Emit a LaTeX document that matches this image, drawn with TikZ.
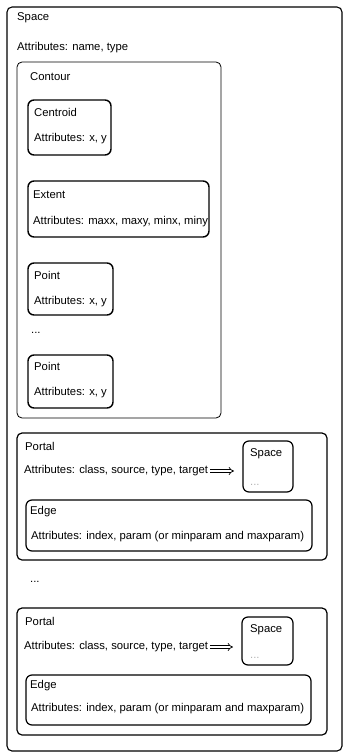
\documentclass[tikz,border=0pt]{standalone}
\usepackage{fontspec}
\setmainfont{Liberation Sans}
\usetikzlibrary{arrows.meta}

\begin{document}
\begin{tikzpicture}[x=1pt,y=-1pt,
  lbl/.style={anchor=west,inner sep=0pt,font=\fontsize{11.3}{13}\selectfont},
  frame/.style={draw,rounded corners=5pt,anchor=north west,inner sep=0pt,outer sep=0pt,line width=1pt},
  inbox/.style={frame,rounded corners=6pt,line width=1.4pt},
  implies/.style={double,line width=0.7pt,double distance=2pt,-{Implies},shorten <=2pt,shorten >=9pt}]

\useasboundingbox (0,0) rectangle (343,754);


\node [frame,line width=1.1pt,minimum width=335pt,minimum height=744pt] (sp-box) at (7,7){};
\node [lbl] (sp-title) at (17,18){Space};
\node [lbl] (sp-attr) at (17,48){Attributes: name, type};



\node [frame,line width=0.8pt,minimum width=204pt,minimum height=356pt] (ctr-box) at (17,62){};
\node [lbl] (ctr-title) at (30,77){Contour};

\node [inbox,minimum width=83pt,minimum height=55pt] (cen-box) at (28,100){};
\node [lbl] (cen-title) at (34,112){Centroid};
\node [lbl] (cen-attr) at (34,139){Attributes: x, y};

\node [inbox,minimum width=181pt,minimum height=56pt] (ext-box) at (28,181){};
\node [lbl] (ext-title) at (33,195){Extent};
\node [lbl] (ext-attr) at (33,222){Attributes: maxx, maxy, minx, miny};

\node [inbox,minimum width=85pt,minimum height=52pt] (pt1-box) at (28,263){};
\node [lbl] (pt1-title) at (34,275){Point};
\node [lbl] (pt1-attr) at (34,302){Attributes: x, y};

\node [lbl] (pt-dots) at (31,333){...};

\node [inbox,minimum width=85pt,minimum height=53pt] (pt2-box) at (28,355){};
\node [lbl] (pt2-title) at (34,366){Point};
\node [lbl] (pt2-attr) at (34,393){Attributes: x, y};



\node [frame,line width=1.2pt,minimum width=310pt,minimum height=127pt] (pr1-box) at (17,433){};
\node [lbl] (pr1-title) at (25,446){Portal};
\node [lbl] (pr1-attr) at (24,471){Attributes: class, source, type, target};

\node [inbox,line width=1.2pt,minimum width=50pt,minimum height=51pt] (pr1-space) at (243,441){};
\node [lbl] (pr1-space-title) at (250,454){Space};
\node [lbl,text=gray!60] (pr1-space-dots) at (250,485){...};
\draw [implies]   (pr1-attr.east) -- (pr1-attr.east -| pr1-space.west);

\node [inbox,line width=1.2pt,minimum width=286pt,minimum height=51pt] (ed1-box) at (26,500){};
\node [lbl] (ed1-title) at (30,512){Edge};
\node [lbl] (ed1-attr) at (31,537){Attributes: index, param (or minparam and maxparam)};



\node [lbl] (pr-dots) at (30,582){...};



\node [frame,line width=1.2pt,minimum width=310pt,minimum height=127pt] (pr2-box) at (17,608){};
\node [lbl] (pr2-title) at (25,621){Portal};
\node [lbl] (pr2-attr) at (24,647){Attributes: class, source, type, target};

\node [inbox,line width=1.2pt,minimum width=51pt,minimum height=48pt] (pr2-space) at (242,617){};
\node [lbl] (pr2-space-title) at (250,630){Space};
\node [lbl,text=gray!60] (pr2-space-dots) at (250,658){...};
\draw [implies]   (pr2-attr.east) -- (pr2-attr.east -| pr2-space.west);

\node [inbox,line width=1.2pt,minimum width=285pt,minimum height=50pt] (ed2-box) at (26,675){};
\node [lbl] (ed2-title) at (30,686){Edge};
\node [lbl] (ed2-attr) at (31,709){Attributes: index, param (or minparam and maxparam)};


%%%%%%%%%%%%%%%%%%%%%%%%%%%%%%%%%%%%%%%%%%%%%%%%%%%%%%%%%%%%%%%%%

\end{tikzpicture}
\end{document}
